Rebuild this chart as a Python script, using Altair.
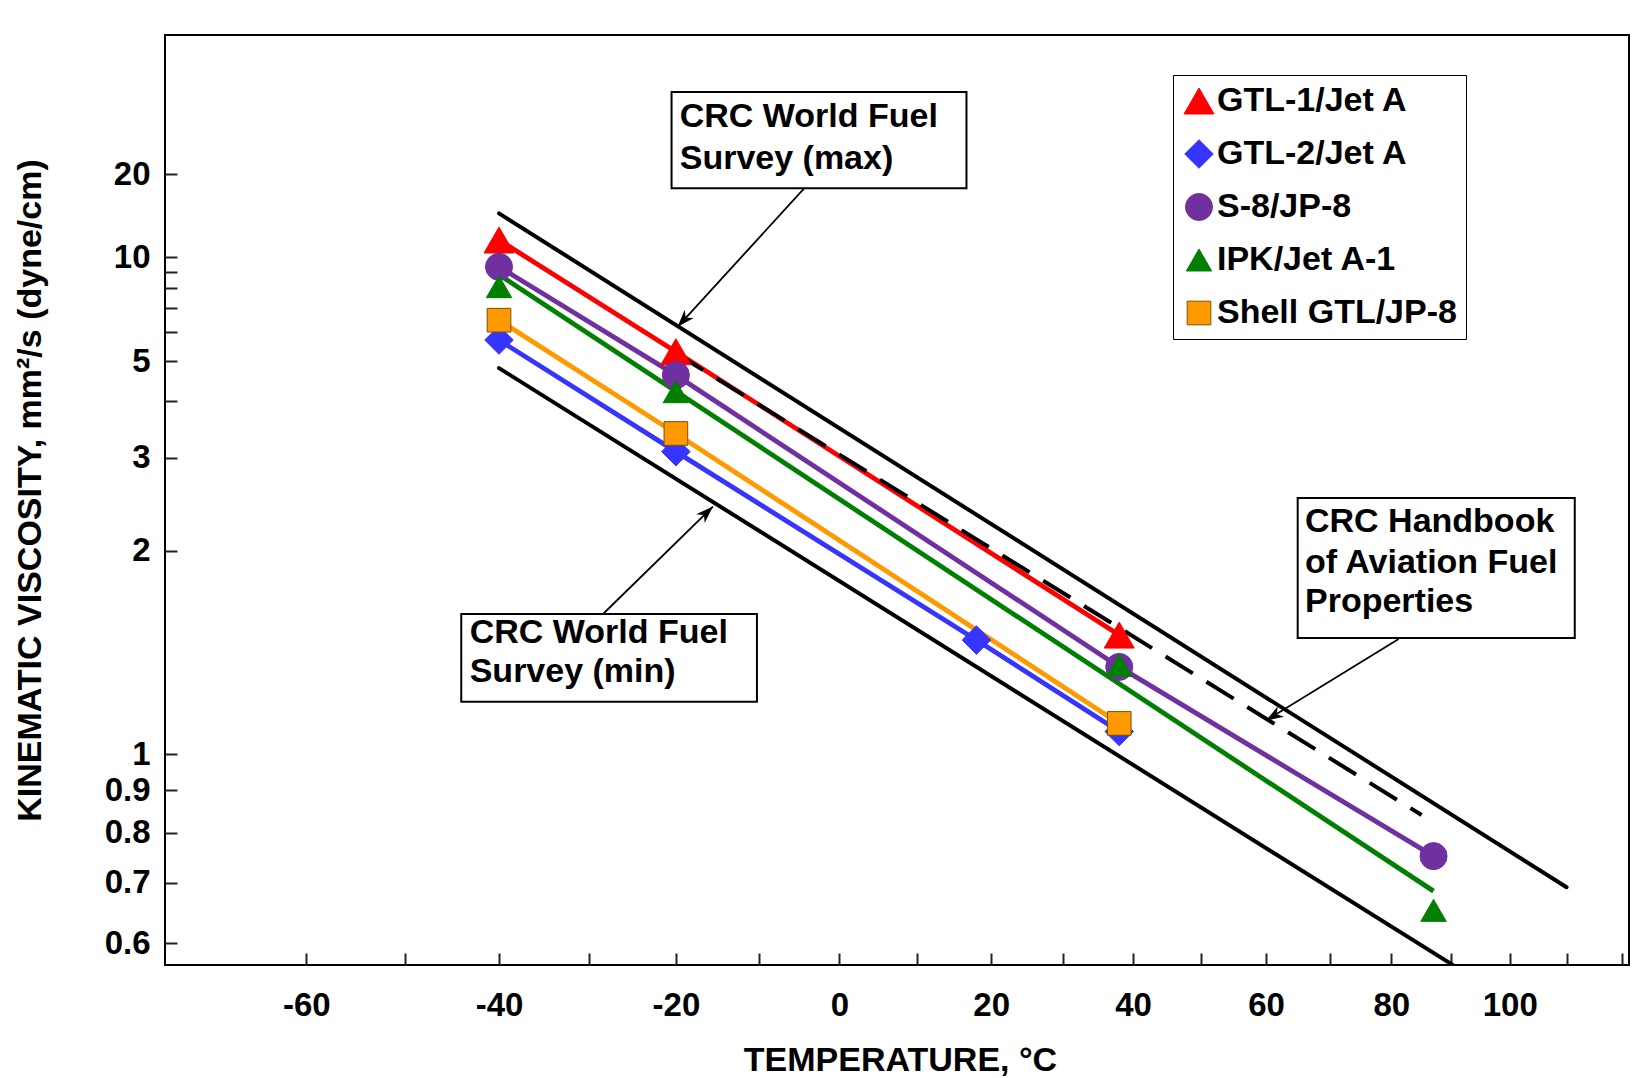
import json
import math
import altair as alt
import pandas as pd

# ---------------- data ----------------
series_names = ["GTL-1/Jet A", "GTL-2/Jet A", "S-8/JP-8", "IPK/Jet A-1", "Shell GTL/JP-8"]

gtl1_temp = [-40, -20, 38]
gtl1_visc = [11.42, 5.30, 1.462]
gtl2_temp = [-40, -20, 18, 38]
gtl2_visc = [5.69, 3.09, 1.437, 1.07]
s8_temp = [-40, -20, 38, 87]
s8_visc = [9.32, 4.62, 1.313, 0.751]
ipk_temp = [-40, -20, 38, 87]
ipk_visc = [8.08, 4.21, 1.32, 0.652]
shell_temp = [-40, -20, 38]
shell_visc = [6.45, 3.38, 1.097]

# trend lines drawn for each fuel (drawing order: blue under orange)
line_order = ["GTL-2/Jet A", "Shell GTL/JP-8", "GTL-1/Jet A", "S-8/JP-8", "IPK/Jet A-1"]
gtl1_line_temp, gtl1_line_visc = gtl1_temp, gtl1_visc
gtl2_line_temp, gtl2_line_visc = gtl2_temp, gtl2_visc
s8_line_temp, s8_line_visc = s8_temp, s8_visc
ipk_line_temp = [-40, 87]
ipk_line_visc = [8.8, 0.685]
shell_line_temp, shell_line_visc = shell_temp, shell_visc

# reference lines
max_temp = [-40, 110]
max_visc = [14.18, 0.692]
min_temp = [-40, 90.3]
min_visc = [4.81, 0.569]
hb_temp = [-20, 85]
hb_visc = [5.25, 0.84]

# annotation boxes (data coordinates)
box_t1 = [-20.51, -44.06, 64.94]
box_t2 = [16.65, -10.27, 111.46]
box_v1 = [47.2, 1.5746, 2.4929]
box_v2 = [17.65, 1.1737, 1.447]

label_text = ["CRC World Fuel", "Survey (max)", "CRC World Fuel", "Survey (min)",
              "CRC Handbook", "of Aviation Fuel", "Properties"]
label_temp = [-19.55, -19.55, -43.16, -43.16, 66.09, 66.09, 66.09]
label_visc = [35.65, 23.21, 1.474, 1.2892, 2.2476, 1.9068, 1.6415]

arrow_tail_temp = [-4.4, -28.7, 81.2]
arrow_tail_visc = [17.65, 1.562, 1.442]
arrow_tip_temp = [-19.8, -15.6, 60.0]
arrow_tip_visc = [6.18, 2.402, 1.107]
arrow_angle = [222, 46, 239]

x_tick_temps = list(range(-60, 130, 10))
y_ticks = [20, 10, 9, 8, 7, 6, 5, 4, 3, 2, 1, 0.9, 0.8, 0.7, 0.6]
y_tick_labels = ["20", "10", "", "", "", "", "5", "", "3", "2", "1", "0.9", "0.8", "0.7", "0.6"]

# ---------------- styles ----------------
fill_colors = ["#FF0000", "#3535FF", "#7030A0", "#008000", "#FF9900"]
stroke_colors = ["#FF0000", "#3535FF", "#7030A0", "#008000", "#7A5200"]
line_colors = ["#3535FF", "#FF9900", "#FF0000", "#7030A0", "#008000"]   # in line_order
line_widths = [4.8, 4.8, 4.8, 3.3, 3.0]                                 # in line_order
shapes = ["triangle-up", "diamond", "circle", "triangle-up", "square"]
sizes = [900, 560, 480, 440, 560]
FONT = "Liberation Sans"


def d341(v):
    return math.log10(math.log10(v + 0.7 + math.exp(-1.47 - 1.84 * v - 0.51 * v * v)))


def yexpr(f):
    d = f"datum.{f}"
    return f"log(log({d} + 0.7 + exp(-1.47 - 1.84*{d} - 0.51*{d}*{d}))/LN10)/LN10"


KOFF = 273.15

# ---------------- tables ----------------
pts_rows, line_rows = [], []
for name, ts, vs in zip(series_names,
                        [gtl1_temp, gtl2_temp, s8_temp, ipk_temp, shell_temp],
                        [gtl1_visc, gtl2_visc, s8_visc, ipk_visc, shell_visc]):
    for t, v in zip(ts, vs):
        pts_rows.append({"series": name, "T": t, "v": v})
for name, ts, vs in zip(line_order,
                        [gtl2_line_temp, shell_line_temp, gtl1_line_temp, s8_line_temp, ipk_line_temp],
                        [gtl2_line_visc, shell_line_visc, gtl1_line_visc, s8_line_visc, ipk_line_visc]):
    for t, v in zip(ts, vs):
        line_rows.append({"fuel_line": name, "T": t, "v": v})
pts = pd.DataFrame(pts_rows)
lines = pd.DataFrame(line_rows)

ref = pd.DataFrame(
    [{"name": "max", "T": t, "v": v} for t, v in zip(max_temp, max_visc)]
    + [{"name": "min", "T": t, "v": v} for t, v in zip(min_temp, min_visc)]
)
hb = pd.DataFrame({"T": hb_temp, "v": hb_visc})
boxes = pd.DataFrame({"t1": box_t1, "t2": box_t2, "v1": box_v1, "v2": box_v2})
labels = pd.DataFrame({"text": label_text, "T": label_temp, "v": label_visc})
arrows = pd.DataFrame({"t1": arrow_tail_temp, "v1": arrow_tail_visc,
                       "t2": arrow_tip_temp, "v2": arrow_tip_visc, "angle": arrow_angle})

# ---------------- scales & axes ----------------
x_scale = alt.Scale(type="log", domain=[199.59, 394.44], nice=False)
y_scale = alt.Scale(domain=[d341(0.5692), d341(96.96)], nice=False, zero=False)

X_TITLE = "TEMPERATURE, °C"
Y_TITLE = "KINEMATIC VISCOSITY, mm²/s (dyne/cm)"

x_axis = alt.Axis(
    values=[t + KOFF for t in x_tick_temps],
    labelExpr="(abs(round(datum.value - 273.15)) % 20 == 0 && round(datum.value - 273.15) <= 100) ? '' + round(datum.value - 273.15) : ''",
    tickSize=12, tickWidth=2, tickColor="#222222", domain=False, offset=-12, grid=False,
    labelPadding=24, labelFont=FONT, labelFontSize=33, labelFontWeight="bold", labelColor="black",
    labelOverlap=False, labelFlush=False,
    title=X_TITLE, titleFont=FONT, titleFontSize=34, titleFontWeight="bold", titleColor="black",
    titleX=735, titleY=107, titleAlign="center", titleBaseline="middle",
)
y_vals = [d341(v) for v in y_ticks]
y_axis = alt.Axis(
    values=y_vals,
    labelExpr=f"{json.dumps(y_tick_labels)}[indexof({json.dumps(y_vals)}, datum.value)]",
    tickSize=12, tickWidth=2, tickColor="#222222", domain=False, offset=-12, grid=False,
    labelPadding=15, labelFont=FONT, labelFontSize=33, labelFontWeight="bold", labelColor="black",
    labelOverlap=False, labelFlush=False,
    title=Y_TITLE, titleFont=FONT, titleFontSize=34, titleFontWeight="bold", titleColor="black",
    titleX=-147, titleY=455, titleAngle=270, titleAlign="center", titleBaseline="middle",
)


def X(field):
    return alt.X(f"{field}:Q", scale=x_scale, axis=x_axis, title=X_TITLE)


def Y(field):
    return alt.Y(f"{field}:Q", scale=y_scale, axis=y_axis, title=Y_TITLE)


legend = alt.Legend(
    title=None, orient="none", legendX=1008, legendY=40, strokeColor="black", fillColor="white",
    padding=9, labelFont=FONT, labelFontSize=34, labelFontWeight="bold", labelColor="black",
    labelLimit=500, rowPadding=19, labelOffset=1, symbolStrokeWidth=1,
)

calc_xy = dict(K=f"datum.T + {KOFF}", Y=yexpr("v"))

line_layer = alt.Chart(lines).transform_calculate(**calc_xy).mark_line(clip=True).encode(
    x=X("K"), y=Y("Y"),
    color=alt.Color("fuel_line:N", scale=alt.Scale(domain=line_order, range=line_colors), legend=None),
    strokeWidth=alt.StrokeWidth("fuel_line:N", scale=alt.Scale(domain=line_order, range=line_widths), legend=None),
    detail="fuel_line:N",
)

ref_layer = alt.Chart(ref).transform_calculate(**calc_xy).mark_line(
    color="black", strokeWidth=4, clip=True, strokeCap="round").encode(
    x=X("K"), y=Y("Y"), detail="name:N")

hb_layer = alt.Chart(hb).transform_calculate(**calc_xy).mark_line(
    color="black", strokeWidth=4, strokeDash=[32, 16], clip=True).encode(x=X("K"), y=Y("Y"))

pt_layer = alt.Chart(pts).transform_calculate(**calc_xy).mark_point(
    opacity=1, fillOpacity=1, strokeWidth=1).encode(
    x=X("K"), y=Y("Y"),
    fill=alt.Fill("series:N", scale=alt.Scale(domain=series_names, range=fill_colors), legend=legend),
    stroke=alt.Stroke("series:N", scale=alt.Scale(domain=series_names, range=stroke_colors), legend=legend),
    shape=alt.Shape("series:N", scale=alt.Scale(domain=series_names, range=shapes), legend=legend),
    size=alt.Size("series:N", scale=alt.Scale(domain=series_names, range=sizes), legend=legend),
)

arrow_calc = dict(K1=f"datum.t1 + {KOFF}", K2=f"datum.t2 + {KOFF}", Y1=yexpr("v1"), Y2=yexpr("v2"))
shaft_layer = alt.Chart(arrows).transform_calculate(**arrow_calc).mark_rule(
    color="black", strokeWidth=1.8).encode(x=X("K1"), x2="K2:Q", y=Y("Y1"), y2="Y2:Q")
head_layer = alt.Chart(arrows).transform_calculate(**arrow_calc).mark_point(
    shape="M0,0 L0.6,1.7 L0,1.2 L-0.6,1.7 Z", filled=True, color="black", opacity=1, size=420).encode(
    x=X("K2"), y=Y("Y2"), angle=alt.Angle("angle:Q", scale=None))

box_calc = dict(K1=f"datum.t1 + {KOFF}", K2=f"datum.t2 + {KOFF}", Y1=yexpr("v1"), Y2=yexpr("v2"))
box_layer = alt.Chart(boxes).transform_calculate(**box_calc).mark_rect(
    fill="white", stroke="black", strokeWidth=2).encode(x=X("K1"), x2="K2:Q", y=Y("Y1"), y2="Y2:Q")

text_layer = alt.Chart(labels).transform_calculate(**calc_xy).mark_text(
    align="left", baseline="middle", font=FONT, fontSize=34, fontWeight="bold", color="black").encode(
    x=X("K"), y=Y("Y"), text="text:N")

chart = alt.layer(
    line_layer, ref_layer, hb_layer, pt_layer, shaft_layer, head_layer, box_layer, text_layer
).properties(
    width=1464, height=930,
    autosize=alt.AutoSizeParams(type="none"),
    padding={"left": 165, "top": 35, "right": 8, "bottom": 113},
    background="white",
).configure_view(stroke="black", strokeWidth=2)

chart.save("out.html", embed_options={"renderer": "svg", "actions": False})
